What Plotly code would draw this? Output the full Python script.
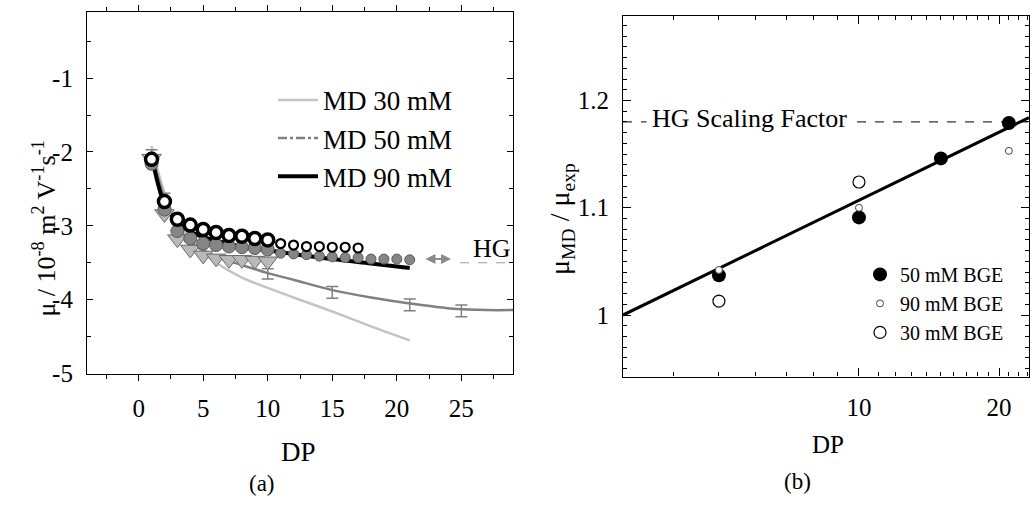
import math
import plotly.graph_objects as go

FONT = "Liberation Serif, Times New Roman, Times, serif"

# ---------------- panel (a) data ----------------
dp_md30 = [1, 2, 3, 4, 5, 6, 8, 10, 12, 15, 18, 21]
mu_md30 = [-1.92, -2.55, -2.95, -3.18, -3.36, -3.50, -3.70, -3.84, -3.97, -4.16, -4.36, -4.55]

dp_md50 = [1, 2, 3, 4, 5, 6, 8, 10, 12, 15, 18, 21, 25, 29]
mu_md50 = [-2.00, -2.62, -3.02, -3.22, -3.33, -3.42, -3.53, -3.64, -3.73, -3.87, -3.97, -4.05, -4.13, -4.14]

dp_md90 = [1, 2, 3, 4, 5, 6, 8, 10, 12, 15, 18, 21]
mu_md90 = [-2.05, -2.70, -2.95, -3.08, -3.15, -3.20, -3.28, -3.33, -3.38, -3.45, -3.51, -3.57]

dp_err50 = [1, 2, 10, 15, 21, 25]
mu_err50 = [-2.02, -2.62, -3.65, -3.90, -4.07, -4.15]
err50 = [0.05, 0.06, 0.07, 0.08, 0.08, 0.08]

dp_open = [1, 2, 3, 4, 5, 6, 7, 8, 9, 10, 11, 12, 13, 14, 15, 16, 17]
mu_open = [-2.10, -2.67, -2.91, -2.99, -3.05, -3.09, -3.13, -3.14, -3.17, -3.19,
           -3.24, -3.26, -3.28, -3.28, -3.29, -3.29, -3.30]

dp_gray = list(range(1, 22))
mu_gray = [-2.16, -2.78, -3.07, -3.17, -3.24, -3.26, -3.28, -3.29, -3.30, -3.32,
           -3.37, -3.38, -3.39, -3.41, -3.42, -3.43, -3.43, -3.45, -3.45, -3.45, -3.46]

dp_tri = [1, 2, 3, 4, 5, 6, 7, 8, 9, 10]
mu_tri = [-2.09, -2.84, -3.18, -3.32, -3.40, -3.44, -3.46, -3.46, -3.47, -3.48]

hg_mu = -3.5
hg_arrow_dp = [22.1, 24.2]
hg_arrow_mu = -3.45

x_ticks_a = [0, 5, 10, 15, 20, 25]
y_ticks_a = [-5, -4, -3, -2, -1]
y_ticktext_a = ["-5", "-4", "-3", "-2", "-1"]

# ---------------- panel (b) data ----------------
dp_50 = [5, 10, 15, 21]
ratio_50 = [1.037, 1.091, 1.146, 1.179]
dp_90 = [5, 10, 21]
ratio_90 = [1.042, 1.100, 1.153]
dp_30 = [5, 10]
ratio_30 = [1.013, 1.124]
fit_dp = [3.11, 23.2]
fit_ratio = [1.0, 1.184]
hg_factor = 1.18

x_ticks_b = [10, 20]
x_minor_b = [4, 5, 6, 7, 8, 9, 11, 12, 13, 14, 15, 16, 17, 18, 19, 21, 22, 23]
y_ticks_b = [1.0, 1.1, 1.2]
y_ticktext_b = ["1", "1.1", "1.2"]

fig = go.Figure()

# ----- panel (a) curves -----
fig.add_trace(go.Scatter(x=dp_md30, y=mu_md30, mode="lines", line=dict(color="#c4c4c4", width=2.5, shape="spline"),
                         showlegend=False, xaxis="x", yaxis="y"))
fig.add_trace(go.Scatter(x=dp_md50, y=mu_md50, mode="lines", line=dict(color="#808080", width=2.5, shape="spline"),
                         showlegend=False, xaxis="x", yaxis="y"))
fig.add_trace(go.Scatter(x=dp_err50, y=mu_err50, mode="markers", marker=dict(size=1, color="rgba(0,0,0,0)"),
                         error_y=dict(type="data", array=err50, color="#808080", thickness=1.5, width=6),
                         showlegend=False, xaxis="x", yaxis="y"))
fig.add_trace(go.Scatter(x=dp_md90, y=mu_md90, mode="lines", line=dict(color="black", width=4, shape="spline"),
                         showlegend=False, xaxis="x", yaxis="y"))

# ----- panel (a) markers -----
fig.add_trace(go.Scatter(x=dp_tri, y=mu_tri, mode="markers",
                         marker=dict(symbol="triangle-down", size=17, color="#b9b9b9", line=dict(color="#6a6a6a", width=1)),
                         showlegend=False, xaxis="x", yaxis="y"))
fig.add_trace(go.Scatter(x=dp_gray[:10], y=mu_gray[:10], mode="markers",
                         marker=dict(symbol="circle", size=13, color="#858585", line=dict(color="#5a5a5a", width=1)),
                         showlegend=False, xaxis="x", yaxis="y"))
fig.add_trace(go.Scatter(x=dp_gray[10:], y=mu_gray[10:], mode="markers",
                         marker=dict(symbol="circle", size=10, color="#858585", line=dict(color="#5a5a5a", width=1)),
                         showlegend=False, xaxis="x", yaxis="y"))
fig.add_trace(go.Scatter(x=dp_open[:10], y=mu_open[:10], mode="markers",
                         marker=dict(symbol="circle", size=12, color="white", line=dict(color="black", width=3.5)),
                         showlegend=False, xaxis="x", yaxis="y"))
fig.add_trace(go.Scatter(x=dp_open[10:], y=mu_open[10:], mode="markers",
                         marker=dict(symbol="circle", size=9, color="white", line=dict(color="black", width=2.2)),
                         showlegend=False, xaxis="x", yaxis="y"))

# ----- panel (a) legend entries -----
fig.add_trace(go.Scatter(x=[None], y=[None], mode="lines", name="MD 30 mM",
                         line=dict(color="#c4c4c4", width=2.5), legend="legend", xaxis="x", yaxis="y"))
fig.add_trace(go.Scatter(x=[None], y=[None], mode="lines", name="MD 50 mM",
                         line=dict(color="#808080", width=2.5, dash="dashdot"), legend="legend", xaxis="x", yaxis="y"))
fig.add_trace(go.Scatter(x=[None], y=[None], mode="lines", name="MD 90 mM",
                         line=dict(color="black", width=4), legend="legend", xaxis="x", yaxis="y"))

# ----- panel (b) -----
fig.add_trace(go.Scatter(x=fit_dp, y=fit_ratio, mode="lines", line=dict(color="black", width=3),
                         showlegend=False, xaxis="x2", yaxis="y2"))
fig.add_trace(go.Scatter(x=dp_50, y=ratio_50, mode="markers", name="50 mM BGE",
                         marker=dict(symbol="circle", size=14, color="black"),
                         legend="legend2", xaxis="x2", yaxis="y2"))
fig.add_trace(go.Scatter(x=dp_90, y=ratio_90, mode="markers", name="90 mM BGE",
                         marker=dict(symbol="circle", size=7, color="white", line=dict(color="#444", width=1)),
                         legend="legend2", xaxis="x2", yaxis="y2"))
fig.add_trace(go.Scatter(x=dp_30, y=ratio_30, mode="markers", name="30 mM BGE",
                         marker=dict(symbol="circle", size=12, color="rgba(255,255,255,0)", line=dict(color="black", width=1.2)),
                         legend="legend2", xaxis="x2", yaxis="y2"))

W, H = 1030, 516
def px(xp):
    return xp / W
def py(yp):
    return (H - yp) / H

axis_common = dict(showgrid=False, zeroline=False, showline=True, linecolor="black", linewidth=1.2,
                   tickcolor="black", tickwidth=1, tickfont=dict(family=FONT, size=25, color="black"))

fig.update_layout(
    width=W, height=H,
    margin=dict(l=0, r=0, t=0, b=0),
    paper_bgcolor="white", plot_bgcolor="white",
    font=dict(family=FONT, color="black"),
    xaxis=dict(domain=[px(87), px(513)], range=[-4, 29], tickvals=x_ticks_a, ticks="outside", ticklen=6,
               mirror="ticks", minor=dict(tickmode="linear", tick0=0, dtick=2.5, ticks="outside", ticklen=4,
                                          tickcolor="black"),
               ticklabelstandoff=6, anchor="y", **axis_common),
    yaxis=dict(domain=[py(384), py(12.7)], range=[-5, -0.11], tickvals=y_ticks_a, ticktext=y_ticktext_a,
               ticks="inside", ticklen=6, mirror="ticks",
               minor=dict(tickmode="linear", tick0=-5, dtick=0.5, ticks="inside", ticklen=4, tickcolor="black"),
               ticklabelstandoff=8, anchor="x", **axis_common),
    xaxis2=dict(domain=[px(623), px(1029)], type="log", range=[math.log10(fit_dp[0]), math.log10(fit_dp[1])],
                tickvals=x_ticks_b, ticktext=[str(v) for v in x_ticks_b], ticks="inside", ticklen=8,
                mirror="ticks", minor=dict(tickmode="array", tickvals=x_minor_b, ticks="inside", ticklen=4,
                                           tickcolor="black"),
                ticklabelstandoff=8, anchor="y2", **axis_common),
    yaxis2=dict(domain=[py(387), py(16.7)], range=[0.9427, 1.2785], tickvals=y_ticks_b, ticktext=y_ticktext_b,
                ticks="inside", ticklen=8, mirror="ticks",
                minor=dict(tickmode="linear", tick0=1.0, dtick=0.01, ticks="inside", ticklen=4, tickcolor="black"),
                ticklabelstandoff=8, anchor="x2", **axis_common),
    legend=dict(x=px(273), y=py(78), xanchor="left", yanchor="top", bgcolor="rgba(0,0,0,0)",
                font=dict(family=FONT, size=27, color="black"), tracegroupgap=0, itemwidth=40),
    legend2=dict(x=px(860), y=py(262), xanchor="left", yanchor="top", bgcolor="rgba(0,0,0,0)",
                 font=dict(family=FONT, size=20, color="black"), tracegroupgap=0, itemsizing="trace"),
)

# reference lines
fig.add_shape(type="line", xref="x", yref="y", x0=24.9, x1=29, y0=hg_mu, y1=hg_mu,
              line=dict(color="#9a9a9a", width=1, dash="dash"))
fig.add_shape(type="line", xref="x2 domain", yref="y2", x0=0, x1=1, y0=hg_factor, y1=hg_factor,
              line=dict(color="black", width=1, dash="dash"))

ann_base = dict(showarrow=False, xanchor="center", yanchor="middle")
annotations = [
    dict(x=hg_arrow_dp[1], y=hg_arrow_mu, ax=hg_arrow_dp[0], ay=hg_arrow_mu, xref="x", yref="y",
         axref="x", ayref="y", text="", showarrow=True, arrowside="end+start", arrowhead=2,
         arrowsize=1, arrowwidth=2, arrowcolor="#8a8a8a"),
    dict(x=27.35, y=-3.30, xref="x", yref="y", text="HG",
         font=dict(family=FONT, size=26, color="black"), **ann_base),
    dict(x=px(45), y=py(235), xref="paper", yref="paper", textangle=-90,
         text="μ / 10<sup>-8</sup> m<sup>2</sup> V<sup>-1</sup>s<sup>-1</sup>",
         font=dict(family=FONT, size=26, color="black"), **ann_base),
    dict(x=px(298), y=py(465), xref="paper", yref="paper", text="DP",
         font=dict(family=FONT, size=27, color="black"), **ann_base),
    dict(x=px(262), y=py(497), xref="paper", yref="paper", text="(a)",
         font=dict(family=FONT, size=23, color="black"), **ann_base),
    dict(x=px(562), y=py(225), xref="paper", yref="paper", textangle=-90,
         text="μ<sub>MD</sub> / μ<sub>exp</sub>",
         font=dict(family=FONT, size=28, color="black"), **ann_base),
    dict(x=px(828), y=py(457), xref="paper", yref="paper", text="DP",
         font=dict(family=FONT, size=25, color="black"), **ann_base),
    dict(x=px(797), y=py(495), xref="paper", yref="paper", text="(b)",
         font=dict(family=FONT, size=23, color="black"), **ann_base),
    dict(x=px(749), y=hg_factor, xref="paper", yref="y2", text="HG Scaling Factor",
         yshift=3, bgcolor="white", borderpad=5,
         font=dict(family=FONT, size=26, color="black"), **ann_base),
]
fig.update_layout(annotations=annotations)

fig.write_html("out.html", config={"displayModeBar": False},
               post_script="document.body.style.margin='0';document.body.style.overflow='hidden';")
